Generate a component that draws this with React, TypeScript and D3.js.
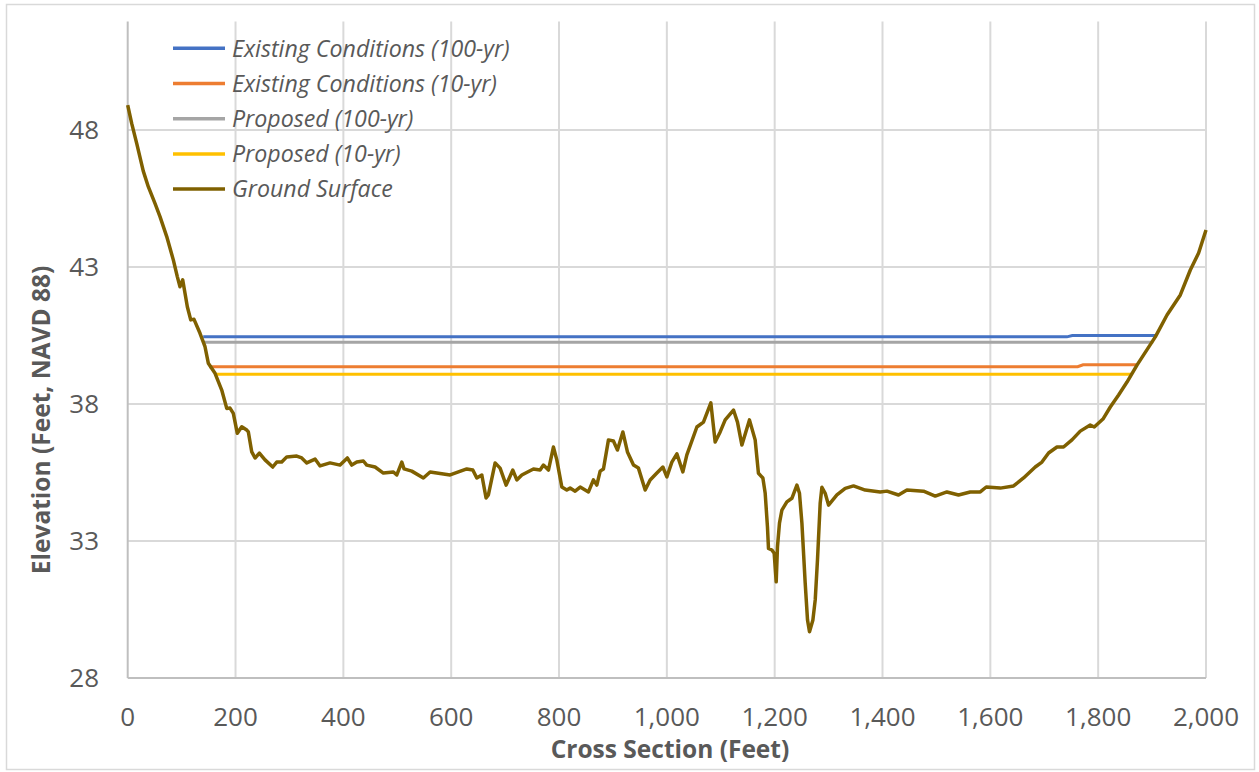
import React from "react";
import * as d3 from "d3";

// Station (ft) and elevation (ft, NAVD 88) of the surveyed ground profile
const groundStation = [
  0, 7.4, 16.7, 28.9, 38.2, 50.6, 59.9, 72.4, 84.6, 92.0, 97.0, 102.0, 106.3, 110.6, 116.9, 123.0,
  134.1, 143.4, 149.5, 162.0, 174.4, 183.7, 189.8, 195.9, 203.3, 211.5, 220.8, 223.8, 230.1, 236.2,
  244.2, 254.7, 269.0, 276.4, 285.7, 295.0, 313.5, 322.8, 332.1, 347.5, 356.8, 375.3, 393.9, 407.4,
  415.6, 424.9, 437.1, 443.4, 458.8, 474.2, 492.8, 499.1, 508.4, 512.6, 526.9, 548.4, 560.9, 598.0,
  628.9, 640.1, 647.5, 656.8, 664.7, 669.0, 681.5, 690.7, 701.9, 714.3, 721.7, 731.0, 752.5, 764.9,
  771.1, 780.4, 789.6, 795.9, 805.2, 814.4, 820.6, 829.9, 839.2, 854.6, 863.8, 870.1, 876.3, 882.4,
  891.7, 900.9, 908.4, 918.4, 926.9, 938.1, 947.3, 959.8, 969.0, 981.5, 992.6, 1000.0, 1009.3,
  1018.6, 1029.7, 1037.1, 1055.7, 1067.9, 1081.6, 1089.6, 1098.9, 1108.2, 1123.6, 1131.0, 1139.2,
  1153.2, 1163.8, 1169.9, 1178.1, 1182.4, 1186.6, 1188.5, 1194.8, 1199.1, 1202.8, 1205.2, 1208.9,
  1213.4, 1222.6, 1231.9, 1241.2, 1246.0, 1250.5, 1256.6, 1260.9, 1264.6, 1270.9, 1275.2, 1279.4,
  1284.4, 1287.6, 1293.7, 1299.9, 1315.4, 1330.8, 1346.2, 1367.9, 1395.7, 1408.2, 1429.7, 1445.3,
  1476.1, 1497.8, 1519.5, 1541.0, 1562.7, 1581.3, 1592.4, 1618.4, 1643.1, 1661.6, 1683.3, 1695.7,
  1708.0, 1723.6, 1735.8, 1751.4, 1766.8, 1785.3, 1792.8, 1808.9, 1822.5, 1837.9, 1853.5, 1872.0,
  1906.0, 1927.7, 1952.4, 1970.9, 1986.3, 2000,
];
const groundElevation = [
  48.91, 48.24, 47.51, 46.5, 45.93, 45.32, 44.84, 44.11, 43.26, 42.65, 42.28, 42.53, 42.04, 41.55,
  41.07, 41.09, 40.58, 40.09, 39.49, 39.12, 38.51, 37.84, 37.85, 37.66, 36.93, 37.17, 37.05, 36.98,
  36.25, 36.03, 36.21, 35.96, 35.7, 35.88, 35.88, 36.07, 36.1, 36.03, 35.85, 35.99, 35.74, 35.85,
  35.77, 36.03, 35.77, 35.88, 35.92, 35.77, 35.7, 35.48, 35.52, 35.41, 35.88, 35.63, 35.55, 35.3,
  35.52, 35.41, 35.63, 35.59, 35.3, 35.41, 34.57, 34.68, 35.85, 35.66, 35.04, 35.59, 35.23, 35.41,
  35.63, 35.59, 35.77, 35.59, 36.43, 35.96, 34.97, 34.86, 34.93, 34.82, 34.97, 34.79, 35.23, 35.04,
  35.55, 35.63, 36.69, 36.65, 36.32, 36.98, 36.25, 35.77, 35.66, 34.86, 35.23, 35.48, 35.7, 35.34,
  35.88, 36.18, 35.52, 36.14, 37.16, 37.34, 38.04, 36.61, 36.98, 37.42, 37.78, 37.34, 36.5, 37.42,
  36.69, 35.47, 35.3, 34.74, 33.52, 32.73, 32.67, 32.55, 31.51, 32.79, 33.65, 34.13, 34.43, 34.56,
  35.04, 34.74, 33.65, 31.46, 30.12, 29.69, 30.12, 30.85, 32.31, 34.38, 34.96, 34.74, 34.31, 34.68,
  34.92, 35.01, 34.86, 34.79, 34.82, 34.68, 34.86, 34.82, 34.64, 34.79, 34.68, 34.79, 34.79, 34.97,
  34.93, 35.01, 35.3, 35.7, 35.88, 36.21, 36.43, 36.43, 36.69, 37.01, 37.23, 37.16, 37.45, 37.89,
  38.33, 38.8, 39.42, 40.45, 41.25, 41.98, 42.89, 43.51, 44.35,
];

// Water surface profiles: [station, elevation] vertices
const existing100 = [[140, 40.45], [1742, 40.45], [1752, 40.5], [1906, 40.5]];
const existing10 = [[151, 39.36], [1762, 39.36], [1772, 39.43], [1874, 39.43]];
const proposed100 = [[141, 40.25], [1902, 40.25]];
const proposed10 = [[162, 39.09], [1863, 39.09]];

const seriesNames = [
  "Existing Conditions (100-yr)",
  "Existing Conditions (10-yr)",
  "Proposed (100-yr)",
  "Proposed (10-yr)",
  "Ground Surface",
];
const seriesColors = ["#4472C4", "#ED7D31", "#A5A5A5", "#FFC000", "#7F6000"];

const xTicks = [0, 200, 400, 600, 800, 1000, 1200, 1400, 1600, 1800, 2000];
const yTicks = [28, 33, 38, 43, 48];

const W = 1259;
const H = 772;
const plot = { left: 127.7, right: 1206, top: 20.4, bottom: 678 };
const FONT = "'Open Sans', 'Noto Sans', sans-serif";
const TEXT = "#595959";

export default function App() {
  const x = d3.scaleLinear().domain([0, 2000]).range([plot.left, plot.right]);
  const y = d3.scaleLinear().domain([28, 52]).range([plot.bottom, plot.top]);
  const line = d3
    .line<number[]>()
    .x((d) => x(d[0]))
    .y((d) => y(d[1]));
  const ground = groundStation.map((s, i) => [s, groundElevation[i]]);
  const waterSeries = [existing100, existing10, proposed100, proposed10];
  const fmt = d3.format(",");

  return (
    <svg
      width={W}
      height={H}
      style={{ position: "absolute", left: 0, top: 0, background: "#fff" }}
      fontFamily={FONT}
    >
      <rect x={6.5} y={4.5} width={1248} height={765} fill="#fff" stroke="#D9D9D9" strokeWidth={1.5} />

      {/* gridlines */}
      {yTicks.filter((t) => t > 28).map((t) => (
        <line key={"gy" + t} x1={plot.left} x2={plot.right} y1={y(t)} y2={y(t)} stroke="#D9D9D9" strokeWidth={2} />
      ))}
      {xTicks.filter((t) => t > 0).map((t) => (
        <line key={"gx" + t} x1={x(t)} x2={x(t)} y1={plot.top + 1} y2={plot.bottom} stroke="#D9D9D9" strokeWidth={2} />
      ))}

      {/* axes */}
      <line x1={plot.left} x2={plot.left} y1={plot.top + 1} y2={plot.bottom} stroke="#BFBFBF" strokeWidth={2} />
      <line x1={plot.left} x2={plot.right} y1={plot.bottom} y2={plot.bottom} stroke="#BFBFBF" strokeWidth={2} />

      {/* water surfaces */}
      {waterSeries.map((s, i) => (
        <path key={"w" + i} d={line(s) || ""} fill="none" stroke={seriesColors[i]} strokeWidth={3} />
      ))}

      {/* ground surface */}
      <path d={line(ground) || ""} fill="none" stroke={seriesColors[4]} strokeWidth={3.5} strokeLinejoin="round" />

      {/* tick labels */}
      {yTicks.map((t) => (
        <text key={"ty" + t} x={99} y={y(t)} dy="0.36em" textAnchor="end" fontSize={26} fill={TEXT}>
          {t}
        </text>
      ))}
      {xTicks.map((t) => (
        <text key={"tx" + t} x={x(t)} y={717} dy="0.36em" textAnchor="middle" fontSize={26} fill={TEXT}>
          {fmt(t)}
        </text>
      ))}

      {/* axis titles */}
      <text x={670} y={758} textAnchor="middle" fontSize={24.5} fontWeight="bold" fill={TEXT}>
        Cross Section (Feet)
      </text>
      <text
        transform={`translate(50,420) rotate(-90)`}
        textAnchor="middle"
        fontSize={24.5}
        fontWeight="bold"
        fill={TEXT}
      >
        Elevation (Feet, NAVD 88)
      </text>

      {/* legend */}
      {seriesNames.map((name, i) => {
        const ly = 48.3 + i * 35.2;
        return (
          <g key={"lg" + i}>
            <line x1={173} x2={225} y1={ly} y2={ly} stroke={seriesColors[i]} strokeWidth={3.5} />
            <text x={232} y={ly} dy="0.36em" fontSize={23.2} fontStyle="italic" fill={TEXT}>
              {name}
            </text>
          </g>
        );
      })}
    </svg>
  );
}
